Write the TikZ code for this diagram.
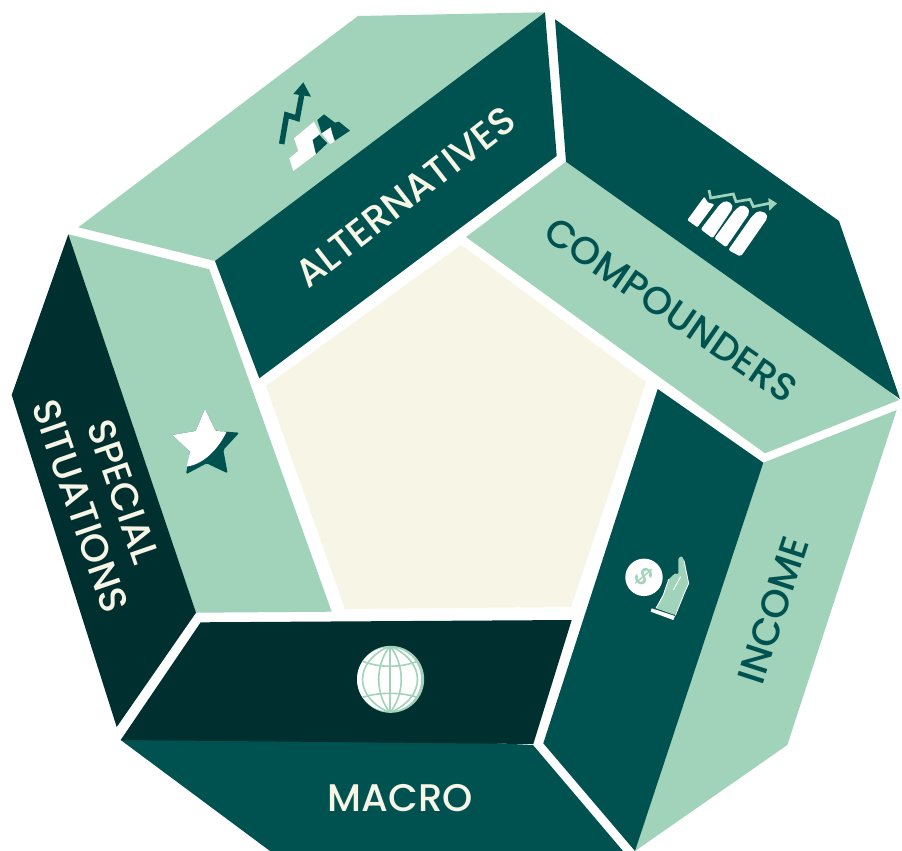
\documentclass[tikz,border=0pt]{standalone}
\usepackage{fontspec}
\setmainfont{Poppins}[UprightFont=* Medium]
\definecolor{lightg}{HTML}{A1D3BB}
\definecolor{teal}{HTML}{005251}
\definecolor{deep}{HTML}{002F2F}
\definecolor{cream}{HTML}{F7F5E6}
\tikzset{
  lab/.style={font=\fontsize{38.5}{45}\selectfont, inner sep=0pt, align=center},
  zoomA/.style={shift={(#1)},x=0.3333pt,y=-0.3333pt},
}
\begin{document}
\begin{tikzpicture}[x=1pt,y=-1pt]
\useasboundingbox (0,0) rectangle (902,851);
\fill[white] (0,0) rectangle (902,851);
% alternatives
\fill[lightg] (78.3,227.3)--(358,16)--(545,12.3)--(400,160)--(215,261)--cycle;
\fill[teal] (215,261)--(545,12.3)--(556.7,156)--(259.3,378.3)--cycle;
% compounders
\fill[lightg] (566,161.7)--(745,265)--(899,400)--(765,453.3)--(466,237)--cycle;
\fill[teal] (555,19.3)--(839,221)--(900,399)--(566,161.7)--cycle;
% income
\fill[lightg] (763.3,462.7)--(896.7,410)--(787.3,745)--(635,851)--(685,657)--cycle;
\fill[teal] (657.7,389)--(763.3,462.7)--(635,851)--(543.3,743.3)--cycle;
% macro
\fill[teal] (120.7,740)--(327,735)--(533,745)--(623,851)--(270,851)--cycle;
\fill[deep] (200.7,622.3)--(571.7,620)--(533.3,744)--(120.7,740)--cycle;
% special
\fill[lightg] (68.3,234.3)--(209.3,269.3)--(331.7,611.7)--(196,612.7)--(120,427)--cycle;
\fill[deep] (68.3,234.3)--(196,612.7)--(116.7,727)--(11.7,395)--cycle;
% centre
\fill[cream] (461,245)--(646,382)--(571,607)--(345,609)--(266,386)--cycle;
% labels
\node[lab,text=cream,rotate=38] (alt) at (405,197) {ALTERNATIVES};
\node[lab,text=teal,rotate=-34.5] (comp) at (671,310) {COMPOUNDERS};
\node[lab,text=teal,rotate=72] (inc) at (773,610) {INCOME};
\node[lab,text=cream] (mac) at (400,798) {MACRO};
\node[lab,text=cream,rotate=-71] (spec) at (102,499) {SPECIAL\\SITUATIONS};
% icon alternatives
\begin{scope}[zoomA={240,70}]
\draw[teal,line width=5.5pt,line join=miter] (125,222)--(140,135)--(172,145)--(185,75);
\fill[teal] (190,37)--(160,72)--(213,80)--cycle;
\fill[white] (148,265)--(175,243)--(162,205)--(222,155)--(240,190)--(218,210)--(228,252)--(160,303)--cycle;
\fill[teal] (232,150)--(252,133)--(285,158)--(297,155)--(330,182)--(285,212)--(272,180)--(245,190)--cycle;
\fill[teal] (218,210)--(238,195)--(262,220)--(228,252)--cycle;
\fill[white] (245,190)--(272,172)--(283,215)--(270,222)--cycle;
\end{scope}
% icon compounders
\begin{scope}[zoomA={670,170}]
\fill[white,rounded corners=1pt] (52,150)--(103,80)--(113,97)--(133,103)--(82,172)--cycle;
\fill[white,rounded corners=2pt] (92,178)--(148,105)--(165,92)--(185,100)--(188,115)--(128,205)--cycle;
\fill[white,rounded corners=2pt] (133,205)--(195,120)--(215,105)--(235,113)--(238,130)--(168,232)--cycle;
\fill[white,rounded corners=2pt] (175,240)--(245,140)--(265,122)--(290,130)--(292,145)--(212,260)--cycle;
\draw[lightg,line width=2.7pt] (117,60)--(122,84)--(190,72)--(198,95)--(240,88)--(250,110)--(298,100);
\fill[lightg] (321,100)--(295,84)--(298,122)--cycle;
\end{scope}
% icon income
\begin{scope}[zoomA={610,540}]
\fill[white] (102,112) circle[radius=18.7pt];
\fill[lightg,rounded corners=1pt] (205,55)--(215,48)--(222,60)--(235,130)--(222,160)--(195,225)--(138,205)--(160,165)--(176,118)--(195,100)--(205,103)--cycle;
\fill[white] (125,205)--(195,228)--(190,240)--(122,215)--cycle;
\draw[white,line width=0.9pt] (190,150)--(212,110);
\draw[white,line width=0.9pt] (222,62)--(236,130)--(222,162)--(196,226);
\draw[white,line width=0.9pt] (138,205)--(160,165)--(176,118);
\node[text=lightg,font=\fontsize{25}{25}\selectfont,rotate=-50,inner sep=0pt] (dollar) at (102,112) {\$};
\end{scope}
% icon macro
\begin{scope}[zoomA={340,635}]
\fill[lightg] (152,133) circle[radius=33.5pt];
\fill[white] (147,133) circle[radius=32pt];
\begin{scope}
\clip (150,133) circle[radius=33pt];
\draw[lightg,line width=1.6pt] (150,33)--(150,233);
\draw[lightg,line width=1.6pt] (150,33) .. controls (105,90) and (105,176) .. (150,233);
\draw[lightg,line width=1.6pt] (150,33) .. controls (195,90) and (195,176) .. (150,233);
\draw[lightg,line width=1.6pt] (150,33) .. controls (40,80) and (40,186) .. (150,233);
\draw[lightg,line width=1.6pt] (150,33) .. controls (260,80) and (260,186) .. (150,233);
\draw[lightg,line width=1.6pt] (60,75) .. controls (110,100) and (190,100) .. (240,75);
\draw[lightg,line width=1.6pt] (60,190) .. controls (110,170) and (190,170) .. (240,190);
\end{scope}
\end{scope}
% icon special
\begin{scope}[zoomA={155,395}]
\fill[teal,rounded corners=1.5pt] (150,42)--(182,108)--(253,113)--(205,165)--(218,235)--(155,205)--(93,238)--(105,170)--(52,120)--(122,108)--cycle;
\fill[white,rounded corners=1pt] (150,42)--(182,108)--(215,110) .. controls (190,160) and (150,205) .. (95,215)--(105,170)--(52,120)--(122,108)--cycle;
\end{scope}
\end{tikzpicture}
\end{document}
